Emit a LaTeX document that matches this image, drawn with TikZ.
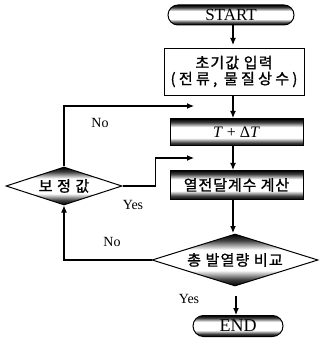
\documentclass[tikz,border=0pt]{standalone}
\usepackage{fontspec}
\setmainfont{Liberation Serif}
\newfontfamily\kr{Noto Sans CJK KR}[FakeBold=1.2]
\usetikzlibrary{shapes.geometric,shapes.misc,arrows.meta}
\pgfdeclareverticalshading{band}{100bp}{color(0bp)=(black); color(25bp)=(black); color(31bp)=(black!75); color(40bp)=(white); color(60bp)=(white); color(69bp)=(black!75); color(75bp)=(black); color(100bp)=(black)}
\tikzset{
  arr/.style={line width=1.1pt, -{Latex[length=7pt,width=6pt]}},
  line/.style={line width=1.1pt},
  shadedbox/.style={draw, line width=1pt, shading=band, inner sep=0pt},
  term/.style={shadedbox, rounded rectangle, font=\fontsize{17}{17}\selectfont},
  procbox/.style={shadedbox, rectangle, minimum width=133pt},
  plainbox/.style={draw, line width=0.8pt, fill=white, inner sep=0pt, align=center},
  dec/.style={shadedbox, diamond},
  lbl/.style={font=\fontsize{14}{14}\selectfont, inner sep=0pt},
  krt/.style={font=\kr\fontsize{15}{15}\selectfont}
}
\begin{document}
\begin{tikzpicture}[x=1pt,y=-1pt]
\useasboundingbox (0,0) rectangle (320,344);
\node[term, minimum width=126pt, minimum height=20pt] (start) at (231,15) {START};
\node[plainbox, minimum width=140pt, minimum height=47pt, krt] (init) at (234,71.5)
  {\addfontfeature{LetterSpace=8}초기값 입력\\[1pt]\addfontfeature{LetterSpace=22}(전류, 물질상수)};
\node[procbox, minimum height=27pt, font=\fontsize{16}{16}\selectfont] (tdt) at (236.5,132.5) {\textit{T} + Δ\textit{T}};
\node[procbox, minimum height=29pt, krt] (htc) at (236.5,185) {\addfontfeature{LetterSpace=6}열전달계수 계산};
\node[dec, aspect=3.19, minimum width=166pt, minimum height=52pt, krt] (cmp) at (235,260) {\addfontfeature{LetterSpace=8}총 발열량 비교};
\node[dec, aspect=3.05, minimum width=116pt, minimum height=38pt, krt] (corr) at (64,186) {\addfontfeature{LetterSpace=8}보 정 값};
\node[term, minimum width=90pt, minimum height=21pt, font=\fontsize{18}{18}\selectfont] (end) at (238,326) {END};

\coordinate (noend) at (194,106);
\coordinate (yesend) at (194,158);

\draw[arr] (233,25) -- (233,45);
\draw[arr] (233,96) -- (233,118);
\draw[arr] (233,146) -- (233,170);
\draw[arr] (233,200) -- (233,233);
\draw[arr] (236,296) -- (236,315);

\draw[arr] (corr.north) |- (noend);
\draw[arr] (corr.east) -- ++(33,0) |- (yesend);
\draw[arr] (cmp.west) -| (corr.south);

\node[lbl] (no1) at (100,123) {No};
\node[lbl] (yes1) at (133,205) {Yes};
\node[lbl] (no2) at (112,242) {No};
\node[lbl] (yes2) at (189,299) {Yes};
\end{tikzpicture}
\end{document}
